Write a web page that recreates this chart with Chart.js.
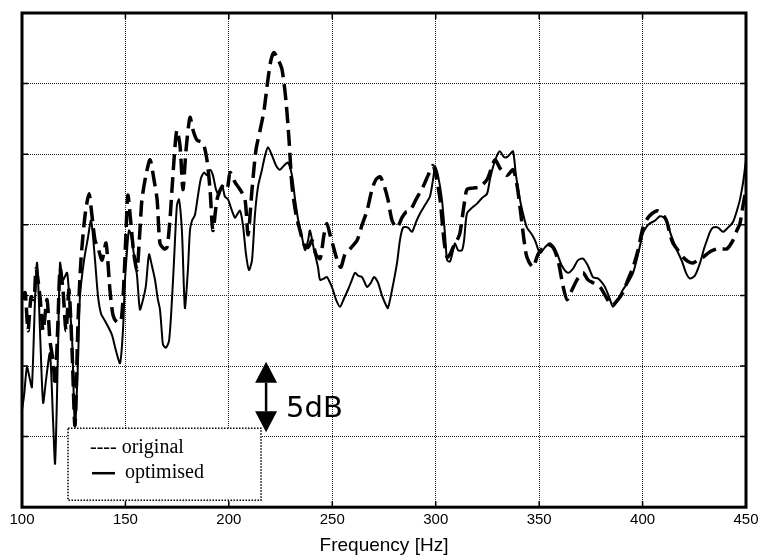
<!DOCTYPE html>
<html>
<head>
<meta charset="utf-8">
<script src="https://cdn.jsdelivr.net/npm/chart.js@4.4.1/dist/chart.umd.min.js"></script>
<style>
  html, body { margin: 0; padding: 0; background: #fff; }
  #chart { display: block; }
</style>
</head>
<body>
<canvas id="chart" width="759" height="557"></canvas>
<script>
// original (dashed) - frequency [Hz] and level [dB, relative]
const freqOriginal = [100.0, 101.5, 102.9, 104.4, 105.8, 106.8, 108.7, 110.2, 112.1, 113.5, 115.0, 116.0, 117.4, 118.4, 119.8, 121.3, 122.7, 124.2, 125.6, 127.1, 128.5, 130.5, 132.4, 133.8, 135.3, 136.7, 138.7, 140.6, 142.5, 144.0, 145.9, 147.9, 149.3, 150.3, 151.2, 152.7, 154.1, 155.6, 157.0, 158.0, 159.9, 161.9, 163.8, 165.3, 166.7, 168.6, 170.1, 171.5, 172.5, 174.0, 174.9, 176.4, 177.8, 179.3, 181.2, 182.7, 184.6, 187.5, 189.4, 190.9, 192.3, 194.3, 196.7, 199.1, 200.6, 203.0, 205.4, 207.8, 209.3, 211.2, 213.1, 215.1, 217.0, 218.9, 220.4, 221.8, 223.8, 225.7, 227.6, 229.1, 230.5, 232.5, 234.4, 236.3, 238.3, 240.2, 242.1, 244.1, 246.0, 247.4, 248.9, 250.8, 252.8, 254.2, 256.1, 258.6, 262.0, 264.4, 266.8, 269.2, 271.1, 273.1, 275.0, 276.9, 278.9, 281.3, 283.7, 285.6, 287.6, 290.5, 293.9, 296.3, 298.7, 300.1, 302.1, 304.0, 305.5, 306.9, 308.4, 310.3, 311.7, 313.7, 315.1, 318.0, 321.4, 324.8, 326.7, 328.7, 331.1, 334.5, 337.4, 339.3, 340.7, 342.7, 344.1, 347.0, 349.4, 351.9, 354.3, 356.7, 359.1, 361.5, 363.5, 365.9, 368.3, 371.2, 373.6, 376.0, 379.4, 382.3, 385.2, 388.1, 390.5, 392.9, 395.4, 397.8, 400.2, 402.6, 404.6, 407.0, 408.4, 410.4, 411.8, 413.3, 414.7, 417.1, 419.6, 422.0, 424.4, 426.8, 429.2, 432.6, 436.0, 438.4, 440.8, 443.7, 445.6, 447.1, 448.6, 450.0];
const levelOriginal = [14.7, 15.2, 12.5, 14.9, 14.7, 16.9, 14.9, 12.5, 14.7, 11.8, 10.4, 8.6, 13.2, 16.9, 15.4, 12.5, 15.4, 11.1, 5.8, 13.2, 17.5, 20.7, 22.2, 20.7, 18.9, 18.4, 17.5, 18.7, 15.4, 13.6, 13.1, 13.2, 16.1, 19.6, 22.1, 20.0, 17.9, 16.8, 19.6, 21.8, 23.5, 24.6, 23.2, 21.8, 18.7, 18.3, 18.4, 20.3, 22.5, 25.6, 26.7, 25.6, 22.5, 25.3, 27.6, 26.7, 26.0, 25.8, 24.6, 22.5, 19.6, 21.8, 22.7, 22.5, 23.7, 23.0, 22.5, 21.8, 19.3, 22.5, 25.3, 26.7, 28.1, 30.3, 31.7, 32.2, 31.7, 31.0, 28.8, 26.0, 22.8, 20.7, 19.6, 18.6, 18.4, 18.9, 17.9, 17.6, 19.3, 20.1, 19.3, 18.3, 17.3, 17.0, 17.9, 18.3, 18.9, 20.0, 21.0, 22.5, 23.2, 23.4, 22.8, 21.8, 20.3, 19.8, 20.5, 20.9, 21.0, 21.8, 22.7, 23.5, 24.2, 23.5, 21.8, 18.9, 17.7, 17.9, 18.4, 18.9, 19.4, 21.4, 22.5, 22.6, 22.7, 23.2, 23.9, 24.6, 24.0, 23.5, 23.9, 22.8, 21.3, 18.9, 17.7, 17.0, 17.9, 18.4, 18.6, 18.4, 17.5, 15.7, 14.7, 15.4, 16.1, 16.6, 16.1, 15.9, 15.6, 14.9, 14.3, 14.7, 15.2, 16.1, 17.0, 18.2, 19.8, 20.5, 20.8, 21.0, 20.9, 20.6, 20.2, 19.3, 18.7, 18.2, 17.7, 17.4, 17.3, 17.5, 17.7, 18.1, 18.3, 18.3, 18.3, 18.9, 19.6, 20.1, 21.4, 22.5];

// optimised (solid)
const freqOptimised = [100.0, 101.0, 102.4, 103.9, 104.8, 106.3, 107.3, 108.7, 110.2, 111.6, 113.5, 115.0, 116.0, 117.4, 118.4, 119.8, 121.8, 123.2, 124.2, 125.6, 127.1, 128.0, 130.0, 131.9, 133.4, 135.3, 136.7, 138.2, 140.1, 141.6, 143.5, 145.4, 147.4, 148.8, 149.8, 150.8, 151.7, 152.7, 154.1, 155.6, 157.0, 158.5, 159.9, 161.4, 162.8, 164.3, 165.7, 166.7, 167.7, 168.2, 169.6, 171.1, 172.5, 173.5, 174.9, 175.9, 177.3, 178.3, 178.8, 180.2, 181.2, 182.2, 183.6, 185.1, 186.5, 188.0, 189.4, 190.9, 192.3, 193.8, 195.2, 196.7, 198.1, 199.6, 201.5, 203.0, 203.9, 205.4, 206.8, 208.3, 209.7, 211.2, 212.6, 214.1, 216.0, 217.5, 218.9, 220.9, 222.8, 224.7, 226.7, 228.6, 230.5, 232.0, 233.9, 235.4, 236.8, 238.3, 239.2, 241.2, 243.1, 244.1, 246.0, 247.4, 248.9, 250.3, 251.8, 253.7, 255.7, 257.6, 259.5, 261.0, 262.4, 264.4, 266.8, 268.7, 270.2, 272.1, 274.0, 276.0, 276.9, 278.9, 281.3, 282.7, 284.2, 286.6, 288.5, 290.5, 292.4, 294.8, 297.2, 298.7, 299.7, 301.1, 303.0, 304.5, 305.5, 306.9, 308.4, 309.3, 310.8, 312.7, 313.7, 315.1, 317.5, 320.0, 322.4, 324.8, 326.2, 327.7, 329.6, 331.1, 333.0, 334.5, 335.9, 337.4, 338.8, 340.7, 342.7, 344.1, 346.1, 348.0, 350.4, 352.8, 355.2, 357.2, 358.6, 361.0, 363.9, 366.4, 368.8, 371.2, 373.6, 376.0, 378.4, 380.4, 381.8, 383.8, 385.7, 388.1, 390.5, 392.9, 395.4, 397.8, 400.2, 402.1, 403.6, 406.0, 408.4, 410.4, 411.8, 413.7, 416.6, 419.1, 421.0, 422.9, 425.3, 427.8, 429.7, 431.1, 432.6, 434.0, 436.5, 438.9, 441.3, 443.7, 445.6, 447.1, 448.6, 450.0];
const levelOptimised = [6.9, 7.9, 9.9, 9.0, 8.5, 14.7, 17.3, 12.5, 7.4, 9.0, 10.9, 6.2, 3.1, 11.1, 17.3, 16.1, 16.6, 14.0, 12.0, 5.7, 10.4, 14.9, 17.5, 19.1, 20.3, 17.5, 15.0, 13.7, 13.2, 12.8, 12.2, 11.1, 10.2, 12.5, 16.1, 18.2, 19.6, 19.3, 17.9, 16.4, 14.0, 14.7, 15.7, 17.9, 17.1, 16.1, 14.7, 14.0, 12.2, 11.5, 11.3, 11.8, 14.7, 17.5, 21.4, 21.8, 19.6, 15.4, 14.1, 16.8, 19.6, 20.3, 20.7, 22.1, 23.3, 23.7, 23.5, 23.9, 23.5, 22.5, 22.1, 22.8, 22.0, 21.8, 21.0, 20.5, 20.7, 21.0, 20.0, 17.9, 16.8, 17.5, 20.7, 22.7, 23.9, 24.9, 25.5, 24.9, 24.2, 23.9, 24.2, 24.4, 23.5, 21.8, 20.0, 19.1, 18.2, 18.9, 19.6, 18.2, 17.0, 16.1, 16.2, 16.3, 15.9, 15.4, 14.7, 14.2, 14.8, 15.4, 16.1, 16.6, 16.4, 16.3, 15.6, 15.9, 16.3, 15.9, 15.0, 14.3, 14.1, 15.4, 17.3, 18.9, 19.8, 19.8, 19.5, 20.2, 20.8, 21.4, 22.0, 23.2, 24.1, 23.5, 21.8, 19.3, 17.5, 17.4, 18.2, 18.7, 18.2, 18.2, 18.9, 20.8, 21.2, 21.5, 21.9, 22.2, 23.2, 24.1, 24.9, 25.2, 24.8, 24.8, 25.0, 25.2, 23.5, 21.8, 20.5, 19.8, 19.4, 18.9, 18.0, 18.4, 18.7, 18.4, 18.0, 17.1, 16.6, 16.9, 17.5, 17.6, 17.1, 16.3, 16.2, 15.9, 15.6, 14.9, 14.2, 14.7, 15.4, 15.9, 16.6, 17.9, 19.4, 19.9, 20.1, 20.3, 20.6, 20.5, 20.2, 19.3, 18.2, 17.4, 16.6, 16.2, 16.4, 17.3, 18.3, 18.9, 19.5, 19.8, 19.8, 19.5, 19.8, 20.2, 21.0, 21.8, 23.0, 24.6];

const xTicks = [100, 150, 200, 250, 300, 350, 400, 450];
const yGrid = [0, 5, 10, 15, 20, 25, 30, 35];
const legendLabels = ['---- original', 'optimised'];
const scaleLabel = '5dB';
const scaleBarFreq = 218;        // where the 5 dB marker sits
const scaleBarLevels = [10.3, 5.3];

function toPoints(xs, ys) {
  return xs.map((x, i) => ({ x: x, y: ys[i] }));
}

// frame, edge ticks, legend box and 5dB marker
const decorations = {
  id: 'decorations',
  afterDraw(chart) {
    const ctx = chart.ctx;
    const a = chart.chartArea;
    const xs = chart.scales.x;
    const ys = chart.scales.y;
    ctx.save();

    // ticks pointing inwards
    ctx.strokeStyle = '#000';
    ctx.lineWidth = 1.5;
    yGrid.forEach(v => {
      const py = ys.getPixelForValue(v);
      ctx.beginPath();
      ctx.moveTo(a.left, py); ctx.lineTo(a.left + 6, py);
      ctx.moveTo(a.right, py); ctx.lineTo(a.right - 6, py);
      ctx.stroke();
    });
    xTicks.forEach(v => {
      const px = xs.getPixelForValue(v);
      ctx.beginPath();
      ctx.moveTo(px, a.bottom); ctx.lineTo(px, a.bottom - 6);
      ctx.moveTo(px, a.top); ctx.lineTo(px, a.top + 6);
      ctx.stroke();
    });

    // frame
    ctx.lineWidth = 3;
    ctx.strokeRect(a.left, a.top, a.right - a.left, a.bottom - a.top);

    // legend box
    const bx = a.left + 46, by = a.bottom - 79, bw = 193, bh = 72;
    ctx.fillStyle = '#fff';
    ctx.fillRect(bx, by, bw, bh);
    ctx.lineWidth = 1.5;
    ctx.setLineDash([1.5, 1.5]);
    ctx.strokeRect(bx, by, bw, bh);
    ctx.setLineDash([]);
    ctx.fillStyle = '#000';
    ctx.font = '20px "Liberation Serif", "Times New Roman", serif';
    ctx.textBaseline = 'middle';
    ctx.textAlign = 'left';
    ctx.fillText(legendLabels[0], bx + 22, by + 20);
    ctx.lineWidth = 2.5;
    ctx.beginPath();
    ctx.moveTo(bx + 24, by + 45); ctx.lineTo(bx + 47, by + 45);
    ctx.stroke();
    ctx.fillText(legendLabels[1], bx + 57, by + 45);

    // 5dB marker
    const mx = xs.getPixelForValue(scaleBarFreq);
    const top = ys.getPixelForValue(scaleBarLevels[0]);
    const bot = ys.getPixelForValue(scaleBarLevels[1]);
    const head = 21, half = 11;
    ctx.beginPath();
    ctx.moveTo(mx, top); ctx.lineTo(mx - half, top + head); ctx.lineTo(mx + half, top + head); ctx.closePath();
    ctx.moveTo(mx, bot); ctx.lineTo(mx - half, bot - head); ctx.lineTo(mx + half, bot - head); ctx.closePath();
    ctx.fill();
    ctx.lineWidth = 2.5;
    ctx.beginPath();
    ctx.moveTo(mx, top + head); ctx.lineTo(mx, bot - head);
    ctx.stroke();
    ctx.font = '29px "DejaVu Sans", sans-serif';
    ctx.fillText(scaleLabel, mx + 20, (top + bot) / 2 + 12);

    ctx.restore();
  }
};

const ctx = document.getElementById('chart').getContext('2d');
new Chart(ctx, {
  type: 'line',
  data: {
    datasets: [
      {
        label: 'original',
        data: toPoints(freqOriginal, levelOriginal),
        borderColor: '#000',
        borderWidth: 3.5,
        borderDash: [16, 7],
        pointRadius: 0,
        tension: 0.25,
        fill: false
      },
      {
        label: 'optimised',
        data: toPoints(freqOptimised, levelOptimised),
        borderColor: '#000',
        borderWidth: 2,
        pointRadius: 0,
        tension: 0.25,
        fill: false
      }
    ]
  },
  options: {
    responsive: false,
    animation: false,
    layout: { padding: { top: 13, left: 22, right: 13, bottom: 0 } },
    plugins: {
      legend: { display: false },
      tooltip: { enabled: false }
    },
    scales: {
      x: {
        type: 'linear',
        min: 100,
        max: 450,
        afterBuildTicks: scale => { scale.ticks = xTicks.map(v => ({ value: v })); },
        afterFit: scale => { scale.paddingLeft = 0; scale.paddingRight = 0; },
        grid: { color: '#222', lineWidth: 1, drawTicks: false },
        border: { display: false, dash: [1, 1] },
        ticks: {
          color: '#000',
          padding: 4,
          maxRotation: 0,
          font: { family: '"Liberation Sans", Arial, sans-serif', size: 15 }
        },
        title: {
          display: true,
          text: 'Frequency [Hz]',
          color: '#000',
          padding: { top: 1, bottom: 0 },
          font: { family: '"Liberation Sans", Arial, sans-serif', size: 19 }
        }
      },
      y: {
        min: 0,
        max: 35,
        ticks: { display: false, stepSize: 5 },
        grid: { color: '#222', lineWidth: 1, drawTicks: false },
        border: { display: false, dash: [1, 1] },
        afterFit: scale => { scale.width = 0; }
      }
    }
  },
  plugins: [decorations]
});
</script>
</body>
</html>
